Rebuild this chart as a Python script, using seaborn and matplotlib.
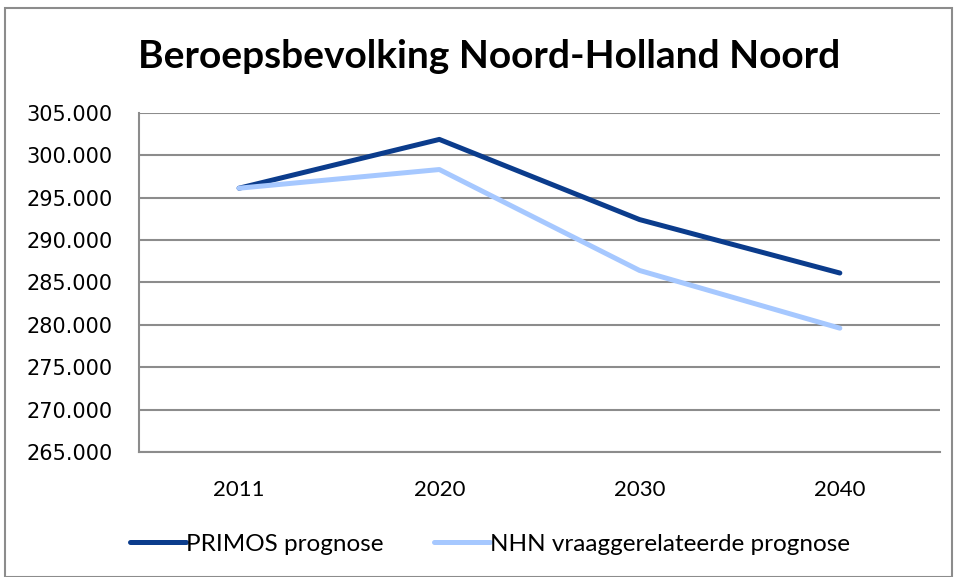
import pandas as pd
import matplotlib.pyplot as plt
import seaborn as sns
from matplotlib.patches import Rectangle
from matplotlib.ticker import FuncFormatter

# -----------------------
# Data
# -----------------------

years = ["2011", "2020", "2030", "2040"]
primos = [296100, 301850, 292400, 286100]
nhn = [296100, 298300, 286400, 279600]
series_names = ["PRIMOS prognose", "NHN vraaggerelateerde prognose"]

data = pd.DataFrame({
    "jaar": years * 2,
    "waarde": primos + nhn,
    "reeks": [series_names[0]] * 4 + [series_names[1]] * 4,
})

# -----------------------
# Style
# -----------------------

sns.set_style("white")
plt.rcParams["font.family"] = ["Lato", "DejaVu Sans"]
plt.rcParams["text.color"] = "black"
plt.rcParams["xtick.labelcolor"] = "black"
plt.rcParams["ytick.labelcolor"] = "black"

fig = plt.figure(figsize=(9.57, 5.77), dpi=100)
ax = fig.add_axes([0.1452, 0.2166, 0.8370, 0.5881])

sns.lineplot(
    data=data,
    x="jaar",
    y="waarde",
    hue="reeks",
    palette=["#0B3C8C", "#A6C8FF"],
    linewidth=3.6,
    legend=False,
    ax=ax,
)

# -----------------------
# Axes
# -----------------------

ax.set_xlim(-0.5, 3.5)
ax.set_ylim(265000, 305000)
ax.set_yticks(range(265000, 305001, 5000))
ax.yaxis.set_major_formatter(FuncFormatter(lambda v, p: f"{int(v):,}".replace(",", ".")))

# category borders get the tick marks, labels sit in between
ax.set_xticks([-0.5, 0.5, 1.5, 2.5, 3.5])
ax.set_xticklabels([])
ax.set_xticks(range(4), minor=True)
ax.set_xticklabels(years, minor=True)
ax.tick_params(axis="x", which="minor", length=0, pad=20, labelsize=16)
ax.tick_params(axis="x", which="major", length=7, width=1.4, color="#8c8c8c", direction="out")
ax.tick_params(axis="y", length=7, width=1.4, color="#8c8c8c", pad=12, direction="out",
               labelsize=15, labelfontfamily="DejaVu Sans")

ax.grid(axis="y", color="#8c8c8c", linewidth=1.5)
ax.set_axisbelow(True)
for side in ["top", "right"]:
    ax.spines[side].set_visible(False)
for side in ["left", "bottom"]:
    ax.spines[side].set_color("#8c8c8c")
    ax.spines[side].set_linewidth(1.5)

ax.set_xlabel("")
ax.set_ylabel("")

# -----------------------
# Title, legend, border
# -----------------------

fig.text(0.511, 0.902, "Beroepsbevolking Noord-Holland Noord",
         ha="center", va="center", fontsize=28, fontweight="bold")

handles = [plt.Line2D([], [], color=c, linewidth=3.6) for c in ["#0B3C8C", "#A6C8FF"]]
fig.legend(handles, series_names, loc="center", bbox_to_anchor=(0.512, 0.057),
           ncol=2, frameon=False, fontsize=17.5, handlelength=2.3,
           handletextpad=0.0, columnspacing=2.05)

fig.patches.append(Rectangle((0.005, 0.0), 0.99, 0.986, transform=fig.transFigure,
                             fill=False, edgecolor="#8c8c8c", linewidth=1.5))

fig.savefig("out.png", dpi=100)
